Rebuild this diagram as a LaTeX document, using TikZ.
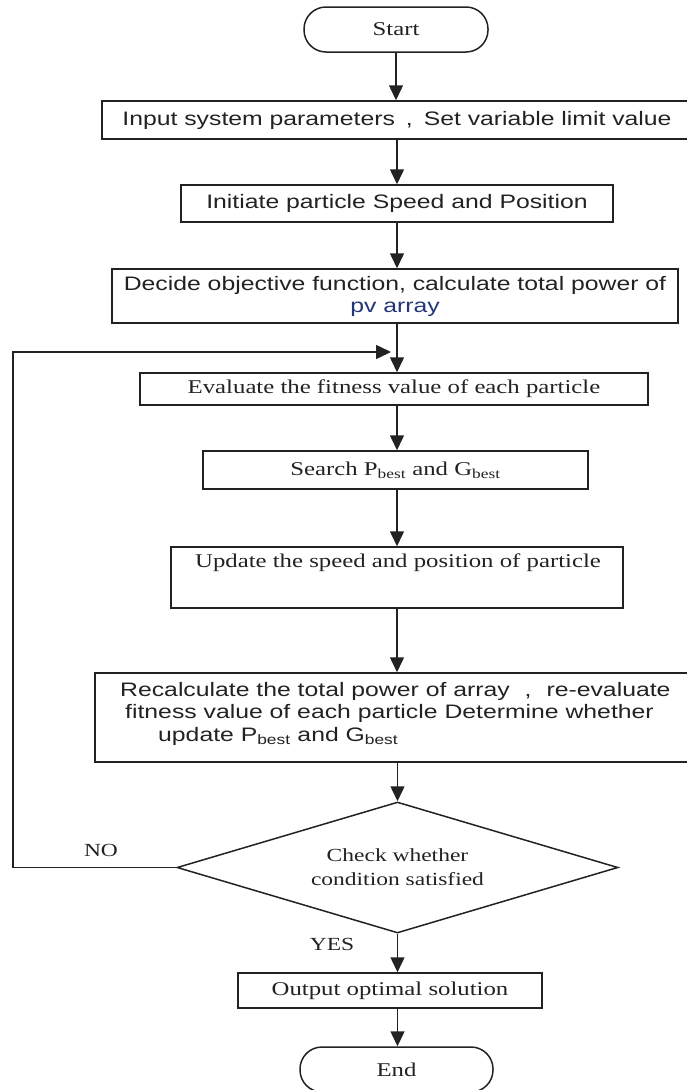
\documentclass[tikz,border=0pt]{standalone}
\usepackage{fontspec}
\setmainfont{Liberation Serif}[FakeStretch=1.27]
\newfontfamily\sansx{Liberation Sans}[FakeStretch=1.27]
\usetikzlibrary{arrows.meta,shapes.geometric}
\definecolor{ink}{RGB}{34,34,34}
\definecolor{pvcol}{RGB}{35,55,120}
\tikzset{
  every node/.style={text=ink},
  procbox/.style={draw=ink, line width=1.5pt, rectangle, inner sep=0pt, align=center},
  serifbox/.style={procbox, font=\fontsize{19.5}{23}\selectfont},
  sansbox/.style={procbox, font=\sansx\fontsize{19.5}{22}\selectfont},
  terminal/.style={draw=ink, line width=1.5pt, rectangle, rounded corners=22pt,
    minimum width=184pt, minimum height=45pt, inner sep=0pt,
    font=\fontsize{19.5}{23}\selectfont},
  decision/.style={draw=ink, line width=1.5pt, diamond, inner sep=0pt, align=center,
    aspect=3.37, font=\fontsize{18.5}{24}\selectfont},
  flow/.style={draw=ink, line width=1.5pt, -{Triangle[length=15pt,width=14pt]}},
  tag/.style={font=\fontsize{18.5}{22}\selectfont, inner sep=0pt}
}
\begin{document}
\begin{tikzpicture}[x=1pt, y=-1pt]
\useasboundingbox (0,0) rectangle (686,1090);

% process steps
\node[terminal] (start) at (396,29.5) {Start};
\node[sansbox, minimum width=590pt, minimum height=38pt] (input) at (397,120)
  {Input system parameters\hspace{11pt},\hspace{11pt}Set variable limit value};
\node[sansbox, minimum width=432pt, minimum height=37pt] (init) at (397,203.5)
  {Initiate particle Speed and Position};
\node[sansbox, minimum width=566pt, minimum height=54pt] (decide) at (395,296)
  {Decide objective function, calculate total power of\\{\color{pvcol}pv array}};
\node[serifbox, minimum width=508pt, minimum height=32pt] (eval) at (394,389)
  {Evaluate the fitness value of each particle};
\node[serifbox, minimum width=385pt, minimum height=38pt] (search) at (395.5,470)
  {Search P\textsubscript{best} and G\textsubscript{best}};
\node[procbox, minimum width=452pt, minimum height=61pt] (update) at (397,577.5) {};
\node[font=\fontsize{19.5}{23}\selectfont, inner sep=0pt] (updtext) at (398,563)
  {Update the speed and position of particle};
\node[procbox, minimum width=597pt, minimum height=89pt] (recalc) at (393.5,717.5) {};
\node[font=\sansx\fontsize{19.5}{22.5}\selectfont, align=left, inner sep=0pt,
  anchor=north west] (recalctext) at (120,682)
  {Recalculate the total power of array\hspace{15pt},\hspace{15pt}re-evaluate\\
   \hspace*{5pt}fitness value of each particle Determine whether\\
   \hspace*{38pt}update P\textsubscript{best} and G\textsubscript{best}};
\node[decision, minimum width=441pt, minimum height=131pt] (check) at (397.5,867.5)
  {Check whether\\condition satisfied};
\node[serifbox, minimum width=304pt, minimum height=35pt] (output) at (390,990.5)
  {Output optimal solution};
\node[terminal, minimum width=193pt] (end) at (396.5,1069.5) {End};

% branch labels
\node[tag] (no) at (101,850) {NO};
\node[tag] (yes) at (332,944) {YES};

% main flow
\draw[flow] (start.south) -- (start.south |- input.north);
\draw[flow] (init.north |- input.south) -- (init.north);
\draw[flow] (init.south) -- (init.south |- decide.north);
\draw[flow] (eval.north -| init.south) ++(0,-50) -- (eval.north -| init.south);
\draw[flow] (eval.south -| init.south) -- (search.north -| init.south);
\draw[flow] (search.south -| init.south) -- (update.north -| init.south);
\draw[flow] (update.south -| init.south) -- (recalc.north -| init.south);
\draw[flow] (recalc.south -| check.north) -- (check.north);
\draw[flow] (check.south) -- (check.south |- output.north);
\draw[flow] (check.south |- output.south) -- (check.south |- end.north);

% return path for the next iteration
\coordinate (join) at (397,352);
\coordinate (leftrail) at (13,352);
\draw[flow, shorten >=6pt] (check.west) -| (leftrail) -- (join);
\end{tikzpicture}
\end{document}
